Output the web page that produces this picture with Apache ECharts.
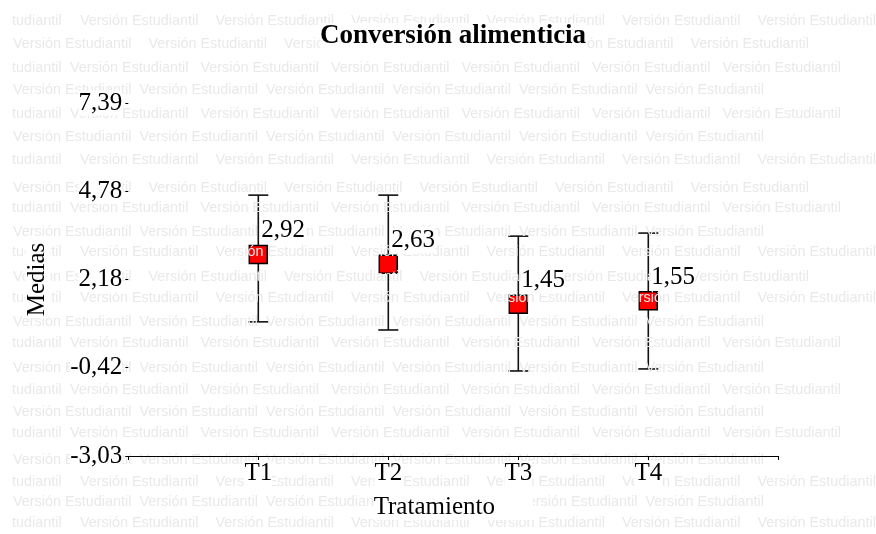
<!DOCTYPE html>
<html>
<head>
<meta charset="utf-8">
<title>Conversión alimenticia</title>
<script src="https://cdn.jsdelivr.net/npm/echarts@6/dist/echarts.min.js"></script>
<style>
  html, body { margin: 0; padding: 0; background: #fff; }
  #chart { width: 876px; height: 534px; }
</style>
</head>
<body>
<div id="chart"></div>
<script>
// Treatments and their means with the lower / upper ends of each error bar
const categories = ['T1', 'T2', 'T3', 'T4'];
const means = [2.92, 2.63, 1.45, 1.55];
const lower = [0.93, 0.69, -0.52, -0.46];
const upper = [4.67, 4.67, 3.46, 3.55];
// Values printed on the vertical axis
const yTicks = [-3.03, -0.42, 2.18, 4.78, 7.39];

const SERIF = '"Liberation Serif", "Times New Roman", serif';
const fmt = v => v.toFixed(2).replace('.', ',');

// One row per treatment: [position on x, mean, lower, upper]
const points = categories.map((c, i) => [i + 1, means[i], lower[i], upper[i]]);

// Light "Versión Estudiantil" watermark rows laid over the plot
const wmRowY = [21, 44, 68, 90, 114, 137, 160, 188, 208, 232, 252, 277,
                298, 322, 343, 368, 390, 412, 433, 460, 482, 502, 523];
const wmRowKind = ['AW', 'VW', 'AN', 'VN', 'AN', 'VN', 'AW', 'VW', 'AN', 'VN', 'AW', 'VW',
                   'AW', 'VN', 'AN', 'VN', 'AN', 'VN', 'AN', 'VN', 'AW', 'VN', 'AW'];
function wmText(text, x, y) {
  return {
    type: 'text', x: x, y: y, z: 3, silent: true,
    style: {
      text: text, fill: '#e9e9e9',
      font: '14.4px "Liberation Sans", Arial, sans-serif',
      verticalAlign: 'middle', align: 'left'
    }
  };
}
function watermark() {
  const els = [];
  wmRowY.forEach((y, i) => {
    const kind = wmRowKind[i];
    const wide = kind[1] === 'W';
    let start, step;
    if (kind[0] === 'A') {
      els.push(wmText('tudiantil', 12, y));
      start = wide ? 80 : 70;
      step = wide ? 135.5 : 130.5;
    } else {
      start = 13;
      step = wide ? 135.5 : 126.5;
    }
    for (let j = 0; j < 6; j++) els.push(wmText('Versión Estudiantil', start + j * step, y));
  });
  return els;
}

// Error bar with caps and a red square at the mean
function renderBar(params, api) {
  const x = api.value(0);
  const pm = api.coord([x, api.value(1)]);
  const pl = api.coord([x, api.value(2)]);
  const ph = api.coord([x, api.value(3)]);
  const cap = 10, half = 9;
  const line = { stroke: '#111', lineWidth: 1.6 };
  return {
    type: 'group',
    children: [
      { type: 'line', shape: { x1: pm[0], y1: ph[1], x2: pm[0], y2: pl[1] }, style: line },
      { type: 'line', shape: { x1: pm[0] - cap, y1: ph[1], x2: pm[0] + cap, y2: ph[1] }, style: line },
      { type: 'line', shape: { x1: pm[0] - cap, y1: pl[1], x2: pm[0] + cap, y2: pl[1] }, style: line },
      { type: 'rect', shape: { x: pm[0] - half, y: pm[1] - half, width: 2 * half, height: 2 * half },
        style: { fill: '#ff0000', stroke: '#000', lineWidth: 1.5 } }
    ]
  };
}

// Mean value written above and to the right of each square
function renderLabel(params, api) {
  const m = api.value(1);
  const pm = api.coord([api.value(0), m]);
  return {
    type: 'text', x: pm[0] + 3, y: pm[1] - 11,
    style: {
      text: fmt(m), fill: '#000', font: '25px ' + SERIF,
      align: 'left', verticalAlign: 'bottom', backgroundColor: '#fff'
    }
  };
}

const chart = echarts.init(document.getElementById('chart'), null, { renderer: 'canvas' });
chart.setOption({
  animation: false,
  backgroundColor: '#fff',
  title: {
    text: 'Conversión alimenticia',
    left: 453, top: 23, textAlign: 'center',
    padding: 0, backgroundColor: '#fff', z: 6,
    textStyle: { fontFamily: SERIF, fontSize: 27, fontWeight: 'bold', color: '#000' }
  },
  grid: { left: 128.3, right: 97.7, top: 103, bottom: 78, containLabel: false },
  xAxis: {
    type: 'value', min: 0, max: 5, interval: 1, z: 5,
    name: 'Tratamiento', nameLocation: 'middle', nameGap: 39,
    nameTextStyle: { fontFamily: SERIF, fontSize: 25, color: '#000', backgroundColor: '#fff', padding: [0, 38, 0, 0] },
    axisLine: { show: true, onZero: false, lineStyle: { color: '#000', width: 1 } },
    axisTick: { show: true, length: 4, inside: false, lineStyle: { color: '#000' } },
    axisLabel: {
      margin: 5, fontFamily: SERIF, fontSize: 25, color: '#000', backgroundColor: '#fff',
      formatter: v => categories[v - 1] || ''
    },
    splitLine: { show: false }
  },
  yAxis: {
    type: 'value', min: yTicks[0], max: yTicks[yTicks.length - 1], z: 5,
    name: 'Medias', nameLocation: 'middle', nameGap: 78,
    nameTextStyle: { fontFamily: SERIF, fontSize: 25, color: '#000', backgroundColor: '#fff' },
    axisLine: { show: false, onZero: false },
    axisTick: { show: true, length: 3, customValues: yTicks, lineStyle: { color: '#000' } },
    axisLabel: {
      margin: 6, fontFamily: SERIF, fontSize: 25, color: '#000', backgroundColor: '#fff',
      customValues: yTicks, formatter: v => fmt(v)
    },
    splitLine: { show: false }
  },
  graphic: watermark(),
  series: [
    { type: 'custom', z: 2, renderItem: renderBar, data: points, clip: false },
    { type: 'custom', z: 4, renderItem: renderLabel, data: points, clip: false }
  ]
});
</script>
</body>
</html>
